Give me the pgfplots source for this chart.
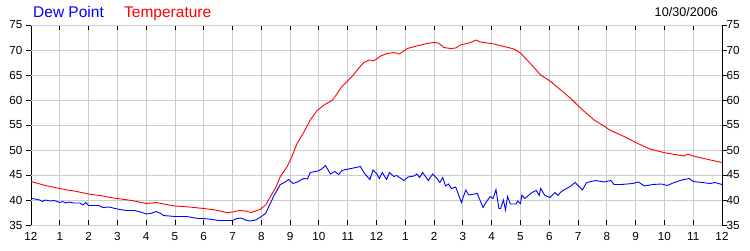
\documentclass[border=0pt]{standalone}
\usepackage{pgfplots}
\pgfplotsset{compat=1.18}
\usepackage{fontspec}
\setmainfont{Liberation Sans}
\definecolor{gridgray}{RGB}{204,204,204}
\begin{document}
\begin{tikzpicture}[x=1pt,y=1pt]
\useasboundingbox (0,0) rectangle (750,250);
\begin{axis}[at={(31pt,25pt)}, anchor=south west, scale only axis,
  width=691pt, height=200pt,
  xmin=0, xmax=24, ymin=35, ymax=75,
  /pgf/number format/assume math mode=true,
  xtick={0,1,...,24},
  xticklabels={\mbox{12},\mbox{1},\mbox{2},\mbox{3},\mbox{4},\mbox{5},\mbox{6},\mbox{7},\mbox{8},\mbox{9},\mbox{10},\mbox{11},\mbox{12},\mbox{1},\mbox{2},\mbox{3},\mbox{4},\mbox{5},\mbox{6},\mbox{7},\mbox{8},\mbox{9},\mbox{10},\mbox{11},\mbox{12}},
  tick align=inside, xtick pos=both, xticklabel pos=bottom,
  ytick=\empty,
  extra y ticks={35,40,...,75},
  extra y tick style={tick align=outside, grid=major},
  major tick length=5pt,
  xmajorgrids=true,
  major grid style={draw=gridgray, line width=0.9pt},
  axis line style={line width=0.9pt},
  every tick/.style={black, line width=0.9pt},
  tick label style={font=\fontsize{11.7}{12}\selectfont},
  xticklabel style={yshift=-4pt},
  clip=true,
]
\addplot[red, line width=0.9pt] coordinates {
(0,43.7) (0.25,43.3) (0.5,42.9) (0.75,42.6) (1,42.3) (1.25,42.0) (1.5,41.8) (1.75,41.5)
(2,41.2) (2.25,41.0) (2.5,40.8) (2.75,40.5) (3,40.3) (3.25,40.1) (3.5,39.9) (3.75,39.6)
(4,39.3) (4.35,39.5) (4.6,39.2) (5,38.8) (5.5,38.6) (6,38.3) (6.4,38.0) (6.8,37.5)
(7.0,37.6) (7.25,37.9) (7.45,37.8) (7.65,37.5) (7.95,38.1) (8.15,39.0) (8.3,40.5)
(8.5,42.5) (8.66,44.7) (8.9,46.7) (9.05,48.5) (9.24,51.3) (9.45,53.3) (9.7,56)
(9.94,57.9) (10.2,59.1) (10.46,59.9) (10.6,61) (10.8,62.7) (11.15,64.7) (11.4,66.5)
(11.56,67.5) (11.75,68) (11.9,67.8) (12.14,68.8) (12.37,69.3) (12.6,69.5) (12.8,69.2)
(13.07,70.3) (13.4,70.8) (13.76,71.3) (14.0,71.5) (14.15,71.4) (14.34,70.5) (14.57,70.3)
(14.75,70.4) (14.92,71.0) (15.27,71.5) (15.46,72.0) (15.6,71.6) (15.73,71.5) (16.08,71.2)
(16.43,70.7) (16.77,70.2) (17.0,69.4) (17.36,67.2) (17.7,65) (18.05,63.7) (18.4,62)
(18.75,60.3) (19.1,58.3) (19.56,56) (19.9,54.8) (20.1,54) (20.6,52.7) (21.07,51.3)
(21.5,50.2) (21.97,49.5) (22.46,49.0) (22.7,48.8) (22.8,49.2) (23.0,48.8) (23.3,48.4)
(23.6,48.0) (24,47.5)
};
\addplot[blue, line width=0.9pt] coordinates {
(0,40.3) (0.15,40.2) (0.3,40.0) (0.4,39.7) (0.5,40.0) (0.65,39.8) (0.8,39.9) (1,39.5)
(1.1,39.7) (1.2,39.4) (1.3,39.6) (1.5,39.4) (1.7,39.4) (1.8,39.0) (1.9,39.5) (2,38.9)
(2.2,38.9) (2.35,38.9) (2.5,38.5) (2.7,38.6) (2.85,38.4) (3,38.2) (3.3,37.9) (3.6,37.9)
(3.8,37.6) (4,37.2) (4.15,37.3) (4.35,37.7) (4.5,37.3) (4.6,36.9) (5,36.7) (5.4,36.7)
(5.6,36.5) (5.8,36.3) (6,36.3) (6.3,36.1) (6.5,35.9) (6.8,35.9) (7.0,35.9) (7.15,36.3)
(7.3,36.4) (7.45,36.0) (7.6,35.8) (7.8,36.0) (7.95,36.5) (8.15,37.3) (8.3,39.2) (8.45,41.0)
(8.66,43.1) (8.8,43.5) (8.95,44.1) (9.1,43.3) (9.25,43.6) (9.47,44.3) (9.6,44.2) (9.7,45.5)
(9.97,45.8) (10.1,46.2) (10.23,46.9) (10.4,45.2) (10.55,45.7) (10.69,45.1) (10.8,45.9)
(10.94,46.1) (11.2,46.4) (11.44,46.7) (11.52,45.9) (11.6,45.2) (11.77,44.1) (11.88,46.0)
(12.0,45.3) (12.1,44.3) (12.2,45.5) (12.35,44.1) (12.45,45.5) (12.6,44.7) (12.7,44.9)
(12.95,43.9) (13.1,44.6) (13.3,44.8) (13.4,45.2) (13.5,44.5) (13.6,45.5) (13.8,43.9)
(13.95,45.2) (14.1,44.3) (14.2,43.5) (14.3,44.5) (14.4,42.8) (14.5,43.2) (14.6,42.3)
(14.75,42.6) (14.95,39.5) (15.1,42.0) (15.2,41.0) (15.5,41.3) (15.7,38.5) (15.8,39.5)
(15.95,40.7) (16.05,40.3) (16.15,42.1) (16.25,38.3) (16.31,38.3) (16.41,40.0) (16.48,38.0)
(16.55,40.7) (16.65,39.2) (16.85,39.2) (16.9,39.8) (17.0,39.3) (17.05,41.0) (17.15,40.3)
(17.4,41.5) (17.55,41.9) (17.65,40.9) (17.7,42.3) (17.85,40.9) (18.03,40.5) (18.2,41.5)
(18.3,40.9) (18.42,41.7) (18.6,42.3) (18.75,42.8) (18.9,43.5) (19.15,42.0) (19.3,43.5)
(19.6,43.9) (19.9,43.6) (20.14,43.9) (20.25,43.1) (20.5,43.1) (20.9,43.3) (21.1,43.6)
(21.3,42.8) (21.6,43.1) (21.9,43.2) (22.1,42.9) (22.3,43.4) (22.6,44.0) (22.86,44.3)
(23.0,43.7) (23.3,43.5) (23.6,43.3) (23.75,43.5) (24,43.1)
};
\end{axis}
\begin{axis}[at={(31pt,25pt)}, anchor=south west, scale only axis,
  width=691pt, height=200pt,
  xmin=0, xmax=24, ymin=35, ymax=75,
  /pgf/number format/assume math mode=true,
  xtick=\empty, axis line style={draw=none},
  ytick={35,40,...,75}, tick align=outside, ytick pos=right, yticklabel pos=right,
  major tick length=5pt,
  every tick/.style={black, line width=0.9pt},
  tick label style={font=\fontsize{11.7}{12}\selectfont},
  yticklabel style={xshift=-4pt},
]
\end{axis}
\node[anchor=base west, inner sep=0pt, text=blue, font=\fontsize{15.5}{16}\selectfont] at (33,233) {Dew Point};
\node[anchor=base west, inner sep=0pt, text=red, font=\fontsize{15.5}{16}\selectfont] at (124,233) {Temperature};
\node[anchor=base east, inner sep=0pt, font=\fontsize{12.6}{13}\selectfont] at (718,233.5) {10/30/2006};
\end{tikzpicture}
\end{document}
